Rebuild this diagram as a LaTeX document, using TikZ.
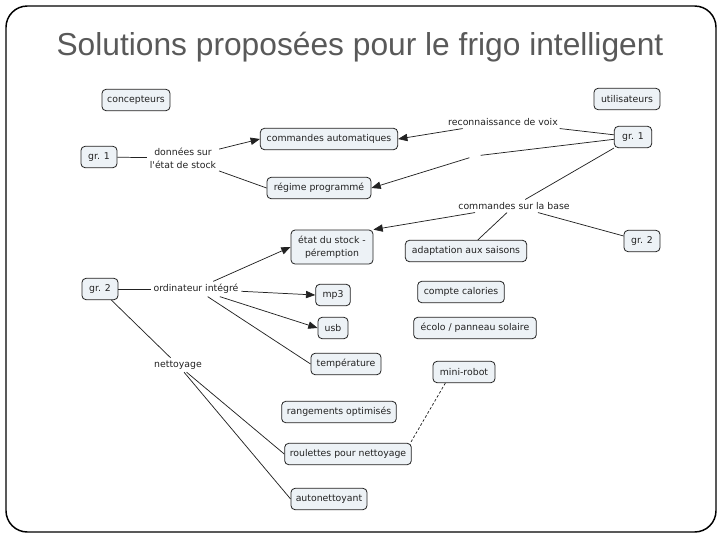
\documentclass[tikz,border=0pt]{standalone}
\usepackage{fontspec}
\setmainfont{Liberation Sans}
\newfontfamily\dvfont{DejaVu Sans}
\usetikzlibrary{arrows.meta}
\definecolor{boxfill}{HTML}{EDF2F6}
\definecolor{titlegray}{HTML}{595959}
\definecolor{inkc}{HTML}{222222}
\begin{document}
\begin{tikzpicture}[x=0.75pt,y=-0.75pt,
  cbox/.style={draw=inkc, line width=0.6pt, rounded corners=3pt, fill=boxfill,
    font=\dvfont\fontsize{7}{9.75}\selectfont, text=inkc, align=center,
    inner sep=1pt, minimum height=16pt},
  lbl/.style={font=\dvfont\fontsize{7}{9.75}\selectfont, text=inkc, align=center, inner sep=2pt, fill=white},
  link/.style={draw=inkc, line width=0.55pt},
  arr/.style={link, -{Triangle[length=7pt,width=5.5pt]}}]
\useasboundingbox (0,0) rectangle (720,540);
\draw[line width=1.1pt, rounded corners=16pt] (6,6) rectangle (716,532);
\node[anchor=base, font=\fontsize{23.8}{28}\selectfont, text=titlegray] (title) at (360,55) {Solutions proposées pour le frigo intelligent};

% boxes
\node[cbox, minimum width=51pt] (conc) at (136,100) {concepteurs};
\node[cbox, minimum width=49.5pt] (util) at (627,99) {utilisateurs};
\node[cbox, minimum width=103pt] (cmdauto) at (329,139) {commandes automatiques};
\node[cbox, minimum width=27pt] (gr1l) at (99,157) {gr. 1};
\node[cbox, minimum width=28pt] (gr1r) at (633,137) {gr. 1};
\node[cbox, minimum width=78pt] (regime) at (319,188) {régime programmé};
\node[cbox, minimum width=61.5pt, minimum height=25.5pt] (etat) at (332,247) {état du stock -\\péremption};
\node[cbox, minimum width=91pt] (adapt) at (466,251) {adaptation aux saisons};
\node[cbox, minimum width=27pt] (gr2r) at (642,241) {gr. 2};
\node[cbox, minimum width=27pt] (gr2l) at (100,289) {gr. 2};
\node[cbox, minimum width=26pt] (mp3) at (333,295) {mp3};
\node[cbox, minimum width=65pt] (calor) at (461,292) {compte calories};
\node[cbox, minimum width=22.5pt] (usb) at (333,328) {usb};
\node[cbox, minimum width=92pt] (ecolo) at (475,328) {écolo / panneau solaire};
\node[cbox, minimum width=52.5pt] (temp) at (346,364) {température};
\node[cbox, minimum width=46.5pt] (mini) at (464,372) {mini-robot};
\node[cbox, minimum width=86pt] (range) at (339,412) {rangements optimisés};
\node[cbox, minimum width=95pt] (roul) at (348,454) {roulettes pour nettoyage};
\node[cbox, minimum width=57pt] (auton) at (329,499) {autonettoyant};

% linking phrases
\node[lbl] (donnees) at (183,158) {données sur\\l'état de stock};
\node[lbl] (reco) at (503,122) {reconnaissance de voix};
\node[inner sep=0pt, minimum size=8pt] (blank) at (475,156) {};
\node[lbl] (cmdbase) at (514,206) {commandes sur la base};
\node[lbl] (ordi) at (196,289) {ordinateur intégré};
\node[lbl] (nett) at (178,365) {nettoyage};

% connectors
\draw[link] (gr1l) -- (donnees);
\draw[arr] (donnees) -- (cmdauto.west);
\draw[link] (donnees) -- (regime.west);
\draw[link] (gr1r) -- (reco);
\draw[arr] (reco) -- (cmdauto.east);
\draw[link] (gr1r) -- (blank);
\draw[arr] (blank) -- (regime.east);
\draw[link] (gr1r) -- (cmdbase);
\draw[link] (gr2r) -- (cmdbase);
\draw[arr] (cmdbase) -- (etat.north east);
\draw[link] (cmdbase) -- (adapt);
\draw[link] (gr2l) -- (ordi);
\draw[arr] (ordi) -- (etat.west);
\draw[arr] (ordi) -- (mp3.west);
\draw[arr] (ordi) -- (usb.west);
\draw[link] (ordi) -- (temp.west);
\draw[link] (gr2l) -- (nett);
\draw[link] (nett) -- (roul.west);
\draw[link] (nett) -- (auton.west);
\draw[link, dashed, dash pattern=on 2pt off 1.5pt] ([xshift=-14pt]mini.south) -- ([xshift=-1pt]roul.north east);
\end{tikzpicture}
\end{document}
